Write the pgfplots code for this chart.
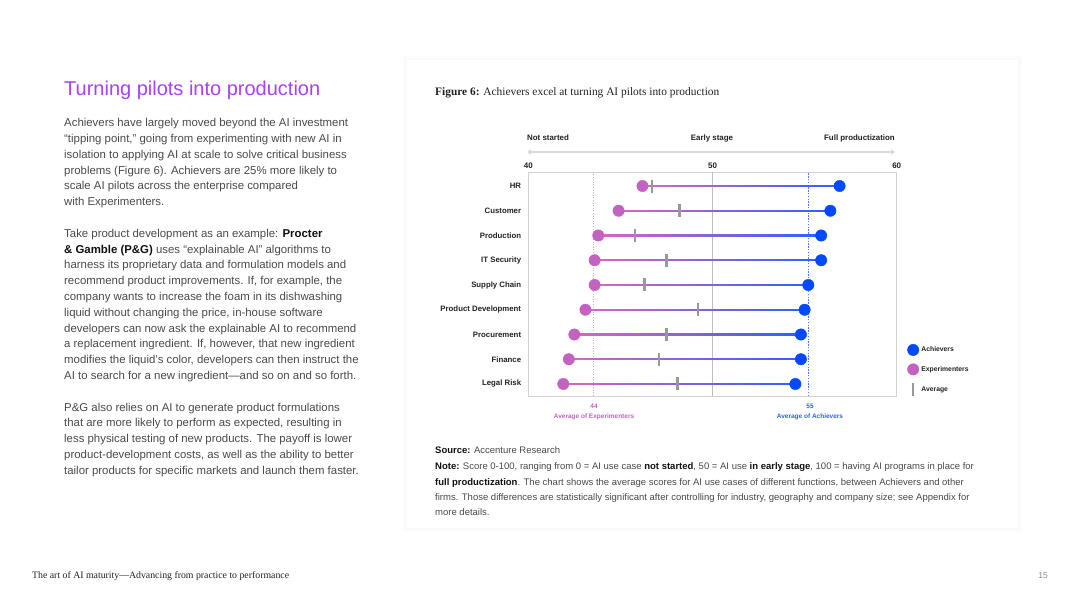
\documentclass[border=0pt]{standalone}
\usepackage{fontspec}
\setmainfont{Liberation Sans}
\newfontfamily\serifx{Liberation Serif}
\usepackage{pgfplots}
\pgfplotsset{compat=1.18}
\usepackage{pgfplotstable}
\usetikzlibrary{arrows.meta}

\definecolor{titlec}{HTML}{A742F2}
\definecolor{bodyc}{HTML}{4A4A4A}
\definecolor{darkc}{HTML}{111111}
\definecolor{labc}{HTML}{222222}
\definecolor{boxc}{HTML}{D2D2D6}
\definecolor{midc}{HTML}{BDBDC4}
\definecolor{arrowc}{HTML}{D9D9DD}
\definecolor{expc}{HTML}{C462C2}
\definecolor{achc}{HTML}{0049FF}
\definecolor{avgc}{HTML}{999999}
\definecolor{segL}{HTML}{DA68B8}
\definecolor{segR}{HTML}{2F5FFF}
\definecolor{explab}{HTML}{C264C6}
\definecolor{achlab}{HTML}{2D64F2}
\definecolor{expline}{HTML}{CDA6D8}
\definecolor{achline}{HTML}{4A7DFF}
\definecolor{pagec}{HTML}{8A8A8A}

\pgfplotstableread{
y exp avg ach
9 46.2 46.7 56.9
8 44.9 48.2 56.4
7 43.8 45.8 55.9
6 43.6 47.5 55.9
5 43.6 46.3 55.2
4 43.1 49.2 55.0
3 42.5 47.5 54.8
2 42.2 47.1 54.8
1 41.9 48.1 54.5
}\datatable

\newcommand{\fs}[2]{\fontsize{#1}{#2}\selectfont}
\newcommand{\BL}[2]{\node[anchor=base west, inner sep=0pt, text=bodyc, font=\fs{11.4}{13}] at (64,{607-(126.7+#1*15.8)}) {#2};}
\newcommand{\NL}[2]{\node[anchor=base west, inner sep=0pt, text=bodyc, font=\fs{9.5}{10}] at (435,{607-#1}) {#2};}

\begin{document}
\begin{tikzpicture}[x=1pt,y=1pt]
\useasboundingbox (0,0) rectangle (1080,607);
\fill[white] (0,0) rectangle (1080,607);
% card with soft shadow
\fill[black!1.5] (403,607-532) rectangle (1022,607-56);
\fill[black!2.5] (405,607-530) rectangle (1020,607-58);
\fill[white] (407,607-528) rectangle (1018,607-60);

% left column
\node[anchor=base west, inner sep=0pt, text=titlec, font=\fs{20}{24}] at (64,607-96) {Turning pilots into production};
\BL{0}{Achievers have largely moved beyond the AI investment}
\BL{1}{“tipping point,” going from experimenting with new AI in}
\BL{2}{isolation to applying AI at scale to solve critical business}
\BL{3}{problems (Figure 6). Achievers are 25\% more likely to}
\BL{4}{scale AI pilots across the enterprise compared}
\BL{5}{with Experimenters.}
\BL{7}{Take product development as an example: {\color{darkc}\bfseries Procter}}
\BL{8}{{\color{darkc}\bfseries \& Gamble (P\&G)} uses “explainable AI” algorithms to}
\BL{9}{harness its proprietary data and formulation models and}
\BL{10}{recommend product improvements. If, for example, the}
\BL{11}{company wants to increase the foam in its dishwashing}
\BL{12}{liquid without changing the price, in-house software}
\BL{13}{developers can now ask the explainable AI to recommend}
\BL{14}{a replacement ingredient. If, however, that new ingredient}
\BL{15}{modifies the liquid’s color, developers can then instruct the}
\BL{16}{AI to search for a new ingredient—and so on and so forth.}
\BL{18}{P\&G also relies on AI to generate product formulations}
\BL{19}{that are more likely to perform as expected, resulting in}
\BL{20}{less physical testing of new products. The payoff is lower}
\BL{21}{product-development costs, as well as the ability to better}
\BL{22}{tailor products for specific markets and launch them faster.}

% footer
\node[anchor=base west, inner sep=0pt, text=labc, font=\serifx\fs{9.8}{11}] at (32,607-579) {The art of AI maturity—Advancing from practice to performance};
\node[anchor=base east, inner sep=0pt, text=pagec, font=\fs{8.5}{10}] at (1048,607-579) {15};

% figure title
\node[anchor=base west, inner sep=0pt, text=labc, font=\serifx\fs{11.4}{13}] at (435,607-95.3) {\textbf{Figure 6:} Achievers excel at turning AI pilots into production};

% header scale
\node[anchor=base west, inner sep=0pt, text=labc, font=\fs{7.9}{9}\bfseries] at (527,607-140.8) {Not started};
\node[anchor=base, inner sep=0pt, text=labc, font=\fs{7.9}{9}\bfseries] at (712,607-140.8) {Early stage};
\node[anchor=base east, inner sep=0pt, text=labc, font=\fs{7.9}{9}\bfseries] at (895,607-140.8) {Full productization};
\draw[draw=arrowc, line width=1.3pt, {Triangle[length=4pt,width=5pt]}-{Triangle[length=4pt,width=5pt]}] (527,607-152) -- (895,607-152);

% average labels
\node[anchor=base, inner sep=0pt, text=explab, font=\fs{6.5}{7}\bfseries] at (594,607-408.5) {44};
\node[anchor=base, inner sep=0pt, text=explab, font=\fs{6.5}{7}\bfseries] at (594,607-418.5) {Average of Experimenters};
\node[anchor=base, inner sep=0pt, text=achlab, font=\fs{6.5}{7}\bfseries] at (810,607-408.5) {55};
\node[anchor=base, inner sep=0pt, text=achlab, font=\fs{6.5}{7}\bfseries] at (810,607-418.5) {Average of Achievers};

% notes
\NL{454}{{\color{darkc}\bfseries Source:} Accenture Research}
\NL{470}{{\color{darkc}\bfseries Note:} Score 0-100, ranging from 0 = AI use case {\color{darkc}\bfseries not started}, 50 = AI use {\color{darkc}\bfseries in early stage}, 100 = having AI programs in place for}
\NL{485.5}{{\color{darkc}\bfseries full productization}. The chart shows the average scores for AI use cases of different functions, between Achievers and other}
\NL{501}{firms. Those differences are statistically significant after controlling for industry, geography and company size; see Appendix for}
\NL{516}{more details.}

\begin{axis}[
  at={(528.3pt,211pt)}, anchor=south west,
  scale only axis, width=368.4pt, height=224pt,
  xmin=40, xmax=60, ymin=0.515, ymax=9.566,
  xtick={40,50,60}, xticklabel pos=upper,
  ytick={1,2,3,4,5,6,7,8,9},
  yticklabels={Legal Risk,Finance,Procurement,Product Development,Supply Chain,IT Security,Production,Customer,HR},
  major tick length=0pt, tick style={draw=none},
  axis line style={draw=boxc, line width=0.9pt},
  /pgf/number format/assume math mode=true,
  xticklabel style={font=\fs{8}{9}\bfseries, text=labc, inner sep=0pt, yshift=3pt},
  yticklabel style={font=\fs{7.8}{9}\bfseries, text=labc, inner sep=0pt, xshift=-7pt},
  clip=false,
  reverse legend,
  legend cell align=left,
  legend style={at={(1.0288,0.232)}, anchor=north west, draw=none, fill=none,
    inner sep=0pt, row sep=8pt, font=\fs{6.8}{8}\bfseries, text=labc,
    nodes={inner sep=2.5pt}},
  legend image code/.code={\draw[#1] plot coordinates {(0pt,0pt)};},
]
% reference lines
\addplot[forget plot, draw=midc, line width=0.8pt] coordinates {(50,0.515) (50,9.566)};
\addplot[forget plot, draw=expline, line width=0.7pt, dash pattern=on 1pt off 1.6pt] coordinates {(43.55,0.515) (43.55,9.566)};
\addplot[forget plot, draw=achline, line width=1pt, dash pattern=on 1.3pt off 1.5pt] coordinates {(55.22,0.515) (55.22,9.566)};
% gradient connecting lines
\addplot[forget plot, draw=none, left color=segL, right color=segR] coordinates {(46.2,8.978) (56.9,8.978) (56.9,9.022) (46.2,9.022)};
\addplot[forget plot, draw=none, left color=segL, right color=segR] coordinates {(44.9,7.978) (56.4,7.978) (56.4,8.022) (44.9,8.022)};
\addplot[forget plot, draw=none, left color=segL, right color=segR] coordinates {(43.8,6.978) (55.9,6.978) (55.9,7.022) (43.8,7.022)};
\addplot[forget plot, draw=none, left color=segL, right color=segR] coordinates {(43.6,5.978) (55.9,5.978) (55.9,6.022) (43.6,6.022)};
\addplot[forget plot, draw=none, left color=segL, right color=segR] coordinates {(43.6,4.978) (55.2,4.978) (55.2,5.022) (43.6,5.022)};
\addplot[forget plot, draw=none, left color=segL, right color=segR] coordinates {(43.1,3.978) (55.0,3.978) (55.0,4.022) (43.1,4.022)};
\addplot[forget plot, draw=none, left color=segL, right color=segR] coordinates {(42.5,2.978) (54.8,2.978) (54.8,3.022) (42.5,3.022)};
\addplot[forget plot, draw=none, left color=segL, right color=segR] coordinates {(42.2,1.978) (54.8,1.978) (54.8,2.022) (42.2,2.022)};
\addplot[forget plot, draw=none, left color=segL, right color=segR] coordinates {(41.9,0.978) (54.5,0.978) (54.5,1.022) (41.9,1.022)};
% markers
\addplot[only marks, mark=|, mark size=6.5pt, color=avgc, line width=2.4pt, mark options={line width=2.4pt}] table[x=avg,y=y]{\datatable};
\addlegendentry{Average}
\addplot[only marks, mark=*, mark size=5.7pt, color=expc, mark options={draw=expc, fill=expc}] table[x=exp,y=y]{\datatable};
\addlegendentry{Experimenters}
\addplot[only marks, mark=*, mark size=5.7pt, color=achc, mark options={draw=achc, fill=achc}] table[x=ach,y=y]{\datatable};
\addlegendentry{Achievers}
\end{axis}
\end{tikzpicture}
\end{document}
